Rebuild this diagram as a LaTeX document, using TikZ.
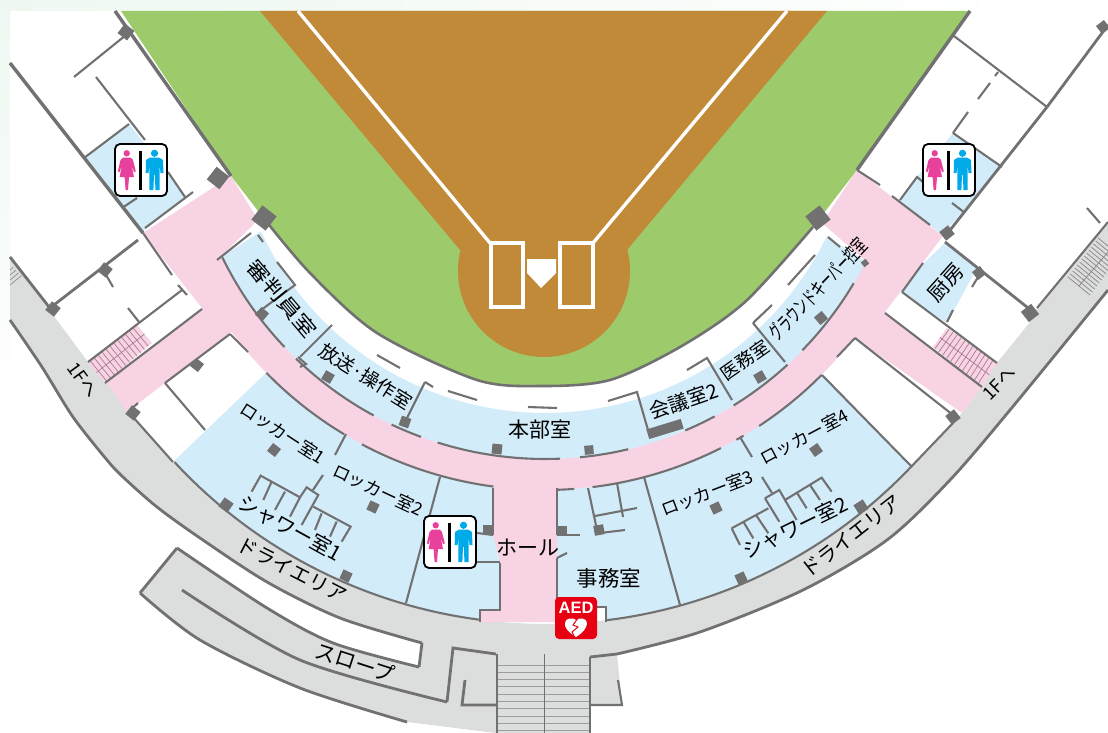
\documentclass[tikz,border=0pt]{standalone}
\usepackage{fontspec}
\usepackage{graphicx}
\setmainfont{Liberation Sans}
\newfontfamily\jp{Noto Sans CJK JP}
\usetikzlibrary{calc}
\definecolor{cpink}{HTML}{F8D3E4}
\definecolor{cblue}{HTML}{D3ECFA}
\definecolor{cgray}{HTML}{DCDDDD}
\definecolor{cwall}{HTML}{727171}
\definecolor{cgreen}{HTML}{9DCB6B}
\definecolor{cbrown}{HTML}{C18A38}
\definecolor{chatch}{HTML}{A87C92}
\definecolor{cwoman}{HTML}{E8419B}
\definecolor{cman}{HTML}{00A9E8}
\definecolor{cred}{HTML}{E60012}
\definecolor{ctint}{HTML}{EEF8F1}
\tikzset{
  wall/.style={draw=cwall,line width=2.1pt},
  thickwall/.style={draw=cwall,line width=3.4pt},
  drywall/.style={draw=cwall,line width=2.8pt},
  lbl/.style={font=\jp\fontsize{18}{18}\selectfont,inner sep=0pt,text=black},
  stripe/.style={draw=#1,line width=0.9pt},
}
\newcommand\pil[4]{\fill[cwall,shift={(#1,#2)},rotate=#4] (-#3,-#3) rectangle (#3,#3);}
\newcommand\wcicon[2]{%
  \begin{scope}[shift={(#1,#2)}]
    \draw[black,line width=1.8pt,fill=white,rounded corners=5pt] (0,0) rectangle (52,52);
    \fill[cwoman] (11.7,9.3) circle[radius=3.2];
    \fill[cwoman] (8,13.5) -- (15.5,13.5) -- (18,16) -- (20.8,27.5) -- (19,28) -- (16.5,21) -- (19,33) -- (14,33) -- (13,46) -- (10.6,46) -- (9.6,33) -- (4.6,33) -- (7,21) -- (4.6,28) -- (2.8,27.5) -- (5.5,16) -- cycle;
    \fill[black] (24.4,6.8) rectangle (27,46);
    \fill[cman] (39.5,9.3) circle[radius=3.6];
    \fill[cman] (35,13.5) -- (44,13.5) -- (48,16) -- (48.5,29) -- (45.5,29) -- (44.6,19.5) -- (44.6,46) -- (40.5,46) -- (39.8,31) -- (39,31) -- (38.4,46) -- (34.4,46) -- (34.4,19.5) -- (33.6,29) -- (30.7,29) -- (31,16) -- cycle;
  \end{scope}}
\begin{document}
\begin{tikzpicture}[x=1pt,y=-1pt]
\useasboundingbox (0,0) rectangle (1108,733);
\fill[white] (0,0) rectangle (1108,733);
% pale page tint
\shade[left color=ctint,right color=white] (0,0) rectangle (1055,11);
\shade[top color=ctint,bottom color=white] (0,0) rectangle (10,420);

% grey dry area, slope and stairs
\fill[cgray] (10,257) -- (53,315) -- (88,362) -- (107,383) -- (127,412) -- (173,462)
  -- plot[domain=137.2:43.6,samples=40] ({545+505*cos(\x)},{119+505*sin(\x)}) -- (953,423) -- (962,413) -- (982,387) -- (997,363) -- (1030,322) -- (1037,308) -- (1108,222) -- (1108,290)
  -- plot[smooth] coordinates {(1108,290) (1010,410) (950,480) (887,540) (803,590) (700,632) (617,654)}
  -- (622,705) -- (590,705) -- (590,733) -- (496,733) -- (407,722)
  -- plot[smooth] coordinates {(407,722) (300,688) (200,640) (140,593)}
  -- (177,548) -- plot[smooth] coordinates {(177,548) (267,608) (333,643) (419,667)}
  -- (422,643) -- plot[smooth] coordinates {(422,643) (340,618) (267,582) (200,538) (157,507) (123,477) (107,460) (73,417) (42,367) (10,320)}
  -- cycle;

% green field and brown infield
\fill[cgreen] (121,11) -- (231,176) -- plot[smooth] coordinates {(262,216) (310,273) (377,333) (477,380) (543,386) (610,380) (680,347) (745,302) (813,227)}
  -- (857,170) -- (968,11) -- cycle;
\fill[cbrown] (260,11) -- (827,11) -- (627,250) -- (460,250) -- cycle;
\fill[cbrown] (544,271) circle[radius=86];
\draw[white,line width=3.4pt] (298,11) -- (490,243);
\draw[white,line width=3.4pt] (787,11) -- (593,243);
\draw[white,line width=3.4pt] (491,243) rectangle (523,307);
\draw[white,line width=3.4pt] (560,243) rectangle (593,307);
\fill[white] (527,259) -- (556,259) -- (556,273) -- (541,288) -- (527,273) -- cycle;

% pink corridor
\fill[cpink] (143,233) -- (231,176) -- (258,220) -- (217,260)
  -- plot[domain=154:26.8,samples=40] ({545+359*cos(\x)},{100+359*sin(\x)}) -- (868,263) -- (822,223) -- (857,170) -- (943,236) -- (885,312)
  -- (982,387) -- (962,413) -- (855,338)
  -- plot[domain=37.5:88.2,samples=40] ({545+390*cos(\x)},{100+390*sin(\x)}) -- (557,488) -- (557,622) -- (480,622) -- (480,610) -- (500,610) -- (500,563) -- (493,535) -- (493,488)
  -- plot[domain=97.6:143.5,samples=40] ({545+390*cos(\x)},{100+390*sin(\x)}) -- (230,333) -- (165,383) -- (127,412) -- (107,383) -- (202,308) -- cycle;

% blue rooms
\fill[cblue] (828,237) -- plot[domain=25.8:155.2,samples=60] ({545+313*cos(\x)},{100+313*sin(\x)}) -- (217,260) -- plot[domain=154:26.8,samples=60] ({545+359*cos(\x)},{100+359*sin(\x)}) -- (868,263) -- cycle;
\fill[cblue] (173,462) -- (266,373) -- plot[domain=135.6:97.6,samples=30] ({545+390*cos(\x)},{100+390*sin(\x)}) -- (493,488) -- (493,535) -- (500,563) -- (500,610) -- (480,610) -- (480,622) -- plot[domain=97.4:137.2,samples=30] ({545+505*cos(\x)},{119+505*sin(\x)}) -- cycle;
\fill[cblue] (557,488) -- plot[domain=88.2:44.8,samples=30] ({545+390*cos(\x)},{100+390*sin(\x)}) -- (822,375) -- (910,467) -- plot[domain=43.6:83.1,samples=30] ({545+505*cos(\x)},{119+505*sin(\x)}) -- (606,622) -- (606,607) -- (557,607) -- cycle;
\fill[cblue] (129,124) -- (84,158) -- (142,232) -- (187,197) -- cycle;
\fill[cblue] (953,133) -- (1002,167) -- (942,235) -- (900,200) -- (917,177) -- cycle;
\fill[cblue] (945,243) -- (977,268) -- (947,323) -- (902,292) -- (924,263) -- cycle;

% pink stair hatches
\coordinate (la) at (88,362); \coordinate (lb) at (105,383); \coordinate (lc) at (152,343); \coordinate (ld) at (137,325);
\coordinate (ra) at (947,328); \coordinate (rb) at (933,347); \coordinate (rc) at (982,387); \coordinate (rd) at (997,363);
\fill[cpink] (la) -- (lb) -- (lc) -- (ld) -- cycle;
\fill[cpink] (ra) -- (rb) -- (rc) -- (rd) -- cycle;
\foreach \t in {0.04,0.12,...,0.97}{
  \draw[chatch,line width=.7pt] ($(la)!\t!(ld)$) -- ($(lb)!\t!(lc)$);
  \draw[chatch,line width=.7pt] ($(ra)!\t!(rd)$) -- ($(rb)!\t!(rc)$);
}
\draw[chatch,line width=.7pt] ($(la)!.5!(lb)$) -- ($(ld)!.5!(lc)$);
\draw[chatch,line width=.7pt] ($(ra)!.5!(rb)$) -- ($(rd)!.5!(rc)$);

% front stairs
\foreach \yy in {665,672.3,...,733}{\draw[stripe=cwall!70] (497,\yy) -- (590,\yy);}
\draw[cwall,line width=.8pt] (544,654) -- (544,733);
% grey side stairs
\foreach \t in {0,0.077,...,1.01}{
  \draw[stripe=cwall!85,line width=.7pt] ($(1068,277)!\t!(1098,238)$) -- ($(1090,295)!\t!(1120,256)$);
}
\draw[stripe=cwall!85,line width=.7pt] (1079,286) -- (1108,252);
\foreach \yy in {270,275,280,285}{\draw[stripe=cwall!80,line width=.7pt] (10,\yy) -- ({10+(\yy-264)*0.55},{\yy-(\yy-264)*0.45});}

% outer walls
\draw[thickwall] (115,11) -- (231,176);
\draw[thickwall] (970,11) -- (857,170);
\draw[thickwall] (10,63) -- (143,233);
\draw[wall,line width=2.6pt] plot[smooth] coordinates {(262,216) (310,273) (377,333) (477,380) (543,386) (610,380) (680,347) (745,302) (813,227)};
% dry area walls
\draw[drywall] (10,257) -- (53,312);
\draw[wall] (173,462) -- (133,417);
\draw[wall] plot[domain=137.2:97.4,samples=40] ({545+505*cos(\x)},{119+505*sin(\x)});
\draw[wall] (480,622) -- (480,610) -- (500,610) -- (500,563);
\draw[wall] (493,535) -- (493,488);
\draw[wall] plot[domain=83.1:43.6,samples=40] ({545+505*cos(\x)},{119+505*sin(\x)}) -- (953,423);
\draw[wall] (1037,308) -- (1108,222);
\draw[wall] (606,622) -- (606,607) -- (597,607);
\draw[wall] (557,598) -- (557,558);
\draw[wall] (557,535) -- (557,488);
\draw[drywall] plot[smooth] coordinates {(10,320) (42,367) (73,417) (107,460) (123,477) (157,507) (200,538) (267,582) (340,618) (422,643)};
\draw[drywall] (422,643) -- (419,667);
\draw[drywall] plot[smooth] coordinates {(177,548) (267,608) (333,643) (419,667)};
\draw[drywall] (177,548) -- (140,593);
\draw[drywall] plot[smooth] coordinates {(140,593) (200,640) (300,688) (407,722)};
\draw[drywall] plot[smooth] coordinates {(182,590) (300,660) (447,702)};
\draw[drywall] (447,702) -- (453,648) -- (496,654);
\draw[drywall] (465,680) -- (462,705) -- (496,705);
\draw[drywall] (497,654) -- (497,733);
\draw[drywall] (590,733) -- (590,657);
\draw[drywall] (590,657) -- (617,654);
\draw[drywall] plot[smooth] coordinates {(617,654) (700,632) (803,590) (887,540) (950,480) (1010,410) (1108,290)};
\draw[wall] (618,680) -- (622,705) -- (590,705);

% corridor walls: inner radius
\foreach \a/\b in {154/149.8,149.8/136.5,133.9/118.5,115.3/110.2,107.4/87.6,84.4/76.6,67/61.8,58.3/47.5,44.2/30.7}{
  \draw[wall] plot[domain=\a:\b,samples=20] ({545+359*cos(\x)},{100+359*sin(\x)});
}
% corridor walls: outer radius
\foreach \a/\b in {135.6/121,118/97.6,88.2/85.7,83/63.2,60.6/59.4,56.7/44.8}{
  \draw[wall] plot[domain=\a:\b,samples=20] ({545+390*cos(\x)},{100+390*sin(\x)});
}
% room walls facing the field
\draw[wall] (258,235) -- (263,242);
\draw[wall] (277,262) -- (295,285) -- (257,313);
\draw[wall] (377,355) -- (400,368);
\draw[wall] (425,382) -- (433,387);
\draw[wall] (448,391) -- (477,400);
\draw[wall] (528,407) -- (557,408);
\draw[wall] (608,401) -- (637,392) -- (648,430);
\draw[wall] (687,370) -- (707,358) -- (732,400);
\draw[wall] (753,323) -- (772,305);
\draw[wall] (753,323) -- (785,362);
\draw[wall] (788,285) -- (815,255);
\draw[wall] (828,237) -- (840,247);
% room dividers
\draw[wall] (217,260) -- (251,233);
\draw[wall] (332,325) -- (300,357);
\draw[wall] (298,357) -- (306,364) -- (300,367);
\draw[wall] (425,382) -- (405,422);
% pink junction left
\draw[wall] (143,233) -- (172,275);
\draw[wall] (178,285) -- (187,295);
\draw[drywall] (50,308) -- (138,240);
\draw[wall] (105,273) -- (113,287);
\draw[wall] (88,362) -- (182,290);
\draw[wall] (128,308) -- (139,322);
\draw[wall] (202,309) -- (105,383);
\draw[wall] (230,334) -- (165,383);
\draw[wall] (230,334) -- (248,352);
\draw[wall] (138,403) -- (128,412);
\draw[wall] (165,383) -- (205,430);
% upper left rooms
\draw[wall] (126,35) -- (74,77);
\draw[wall] (96,77) -- (145,140);
\draw[wall] (168,172) -- (185,197);
\draw[wall] (129,124) -- (84,158);
\draw[wall] (137,198) -- (122,208);
\draw[wall] (145,228) -- (193,192);
% upper right rooms
\draw[wall] (954,36) -- (1047,107);
\draw[drywall] (1047,107) -- (1108,25);
\draw[drywall] (1047,107) -- (947,234);
\draw[wall] (953,133) -- (1002,167);
\draw[wall] (953,133) -- (968,112);
\draw[wall] (978,99) -- (990,83);
\draw[wall] (995,76) -- (998,72);
\draw[wall] (900,200) -- (917,177) -- (923,182);
\draw[wall] (952,203) -- (965,213);
\draw[wall] (857,170) -- (880,185);
\draw[wall] (892,196) -- (930,225);
% kitchen and right branch
\draw[drywall] (945,242) -- (1037,315);
\draw[wall] (902,292) -- (923,263);
\draw[wall] (902,292) -- (997,363);
\draw[wall] (947,322) -- (953,310);
\draw[wall] (978,277) -- (972,287);
\draw[wall] (1087,208) -- (1100,223);
\draw[wall] (885,313) -- (982,387);
\draw[wall] (855,338) -- (953,415);
\draw[wall] (855,338) -- (837,357);
\draw[wall] (822,375) -- (912,467);
% locker room lines, left
\draw[wall] (346,434) -- (335,455);
\draw[wall] (323,475) -- (313,490);
\draw[wall] (440,477) -- (406,603);
\draw[wall] (477,533) -- (493,535);
\draw[wall] (476,562) -- (500,562);
\begin{scope}[shift={(100,360)},x=.3333pt,y=-.3333pt]
\draw[wall] (455,395) -- (482,347) -- (600,412) -- (620,382) -- (655,405) -- (605,495);
\draw[wall] (515,365) -- (490,420);
\draw[wall] (555,395) -- (525,450);
\draw[wall] (600,412) -- (570,470);
\draw[wall] (640,440) -- (752,500) -- (725,545);
\draw[wall] (665,460) -- (645,510);
\draw[wall] (710,485) -- (690,530);
\end{scope}
% locker room lines, right
\draw[wall] (644,477) -- (680,605);
\draw[wall] (740,437) -- (752,457);
\draw[wall] (762,477) -- (772,493);
\begin{scope}[shift={(620,290)},x=.3333pt,y=-.3333pt]
\draw[wall] (435,625) -- (478,600) -- (495,630) -- (605,563) -- (635,605);
\draw[wall] (435,625) -- (478,695);
\draw[wall] (335,715) -- (445,655);
\draw[wall] (335,715) -- (360,765);
\draw[wall] (370,695) -- (400,745);
\draw[wall] (408,675) -- (445,730);
\draw[wall] (495,630) -- (530,690);
\draw[wall] (530,607) -- (560,655);
\draw[wall] (570,585) -- (600,630);
\end{scope}
% office lines
\draw[wall] (588,488) -- (597,530);
\draw[wall] (617,483) -- (623,517);
\draw[wall] (595,516) -- (637,508);
\draw[wall] (600,533) -- (625,530);
\draw[wall] (562,535) -- (580,535);
\draw[wall] (557,558) -- (567,553);

% pillars
\pil{126}{32}{6}{-38}
\pil{218}{178}{8}{-38}
\pil{264}{218}{9}{-38}
\pil{105}{270}{5.5}{-38}
\pil{53}{309}{5.5}{-38}
\pil{197}{365}{5}{-38}
\pil{133}{413}{5.5}{-38}
\pil{262}{314}{5}{-40}
\pil{328}{377}{5}{-30}
\pil{405}{422}{5}{-20}
\pil{497}{449}{5}{-6}
\pil{589}{450}{4.5}{5}
\pil{274}{450}{5}{-38}
\pil{373}{507}{5}{-25}
\pil{226}{505}{5.5}{-35}
\pil{346}{576}{5}{-25}
\pil{488}{530}{5}{0}
\pil{562}{531}{5}{0}
\pil{599}{530}{5}{10}
\pil{760}{377}{5}{30}
\pil{821}{318}{5}{40}
\pil{816}{450}{5}{35}
\pil{716}{508}{5}{25}
\pil{861}{507}{5.5}{32}
\pil{741}{578}{5}{25}
\pil{953}{417}{5.5}{38}
\pil{865}{263}{3}{38}
\pil{818}{218}{9}{38}
\pil{947}{233}{5.5}{38}
\pil{979}{273}{5}{38}
\pil{1030}{313}{6.5}{38}
\pil{1103}{27}{5}{38}
\fill[cwall,shift={(665,429)},rotate=17] (-18,-5) rectangle (18,5);

% labels
\node[lbl,rotate=-50,font=\jp\fontsize{20}{20}\selectfont] (referee) at (282,299) {\scalebox{1.18}[1]{審判員室}};
\node[lbl,rotate=-32,font=\jp\fontsize{19}{19}\selectfont] (broadcast) at (366,376) {放送·操作室};
\node[lbl,font=\jp\fontsize{21}{21}\selectfont] (hq) at (540,430) {本部室};
\node[lbl,rotate=19,font=\jp\fontsize{20}{20}\selectfont] (meeting) at (684,401) {会議室2};
\node[lbl,rotate=35,font=\jp\fontsize{18}{18}\selectfont] (medical) at (745,360) {医務室};
\node[lbl,rotate=46,font=\jp\fontsize{20}{20}\selectfont] (keeper) at (818,289) {\scalebox{.6}[1]{グラウンドキーパー控室}};
\node[lbl,rotate=48,font=\jp\fontsize{21}{21}\selectfont] (kitchen) at (946,283) {厨房};
\node[lbl,rotate=-33,font=\jp\fontsize{17.5}{18}\selectfont] (lock1) at (283,433) {ロッカー室1};
\node[lbl,rotate=-25,font=\jp\fontsize{17.5}{18}\selectfont] (lock2) at (378,490) {ロッカー室2};
\node[lbl,rotate=-29,font=\jp\fontsize{20.5}{20}\selectfont] (show1) at (290,528) {シャワー室1};
\node[lbl,rotate=-27,font=\jp\fontsize{20}{20}\selectfont] (dry1) at (292,570) {ドライエリア};
\node[lbl,rotate=-18,font=\jp\fontsize{21}{21}\selectfont] (slope) at (355,662) {スロープ};
\node[lbl,font=\jp\fontsize{21}{21}\selectfont] (hall) at (528,548) {ホール};
\node[lbl,font=\jp\fontsize{21.5}{21}\selectfont] (office) at (609,578) {事務室};
\node[lbl,rotate=21,font=\jp\fontsize{17.5}{18}\selectfont] (lock3) at (707,493) {ロッカー室3};
\node[lbl,rotate=28,font=\jp\fontsize{17.5}{18}\selectfont] (lock4) at (804,437) {ロッカー室4};
\node[lbl,rotate=26,font=\jp\fontsize{20.5}{20}\selectfont] (show2) at (795,528) {シャワー室2};
\node[lbl,rotate=38,font=\jp\fontsize{20}{20}\selectfont] (dry2) at (851,536) {ドライエリア};
\node[lbl,rotate=-54,font=\jp\fontsize{18}{18}\selectfont] (upl) at (83,380) {1Fへ};
\node[lbl,rotate=45,font=\jp\fontsize{18}{18}\selectfont] (upr) at (999,383) {1Fへ};

% toilet icons
\wcicon{115}{144}
\wcicon{923}{144}
\wcicon{424}{516}

% AED
\fill[cred,rounded corners=4pt] (555,597) rectangle (597,639);
\node[inner sep=0pt,text=white,font=\fontsize{16.5}{17}\selectfont\bfseries] (aed) at (576,607.5) {AED};
\fill[white] (576,637) .. controls (568,632) and (564,627) .. (565,623) .. controls (565,618) and (573,617) .. (576,620) .. controls (579,617) and (587,618) .. (587,623) .. controls (587,627) and (584,632) .. (576,637) -- cycle;
\draw[cred,line width=1pt] (578,618) -- (573,625) -- (578,627) -- (572,632) -- (575,638);
\end{tikzpicture}
\end{document}
